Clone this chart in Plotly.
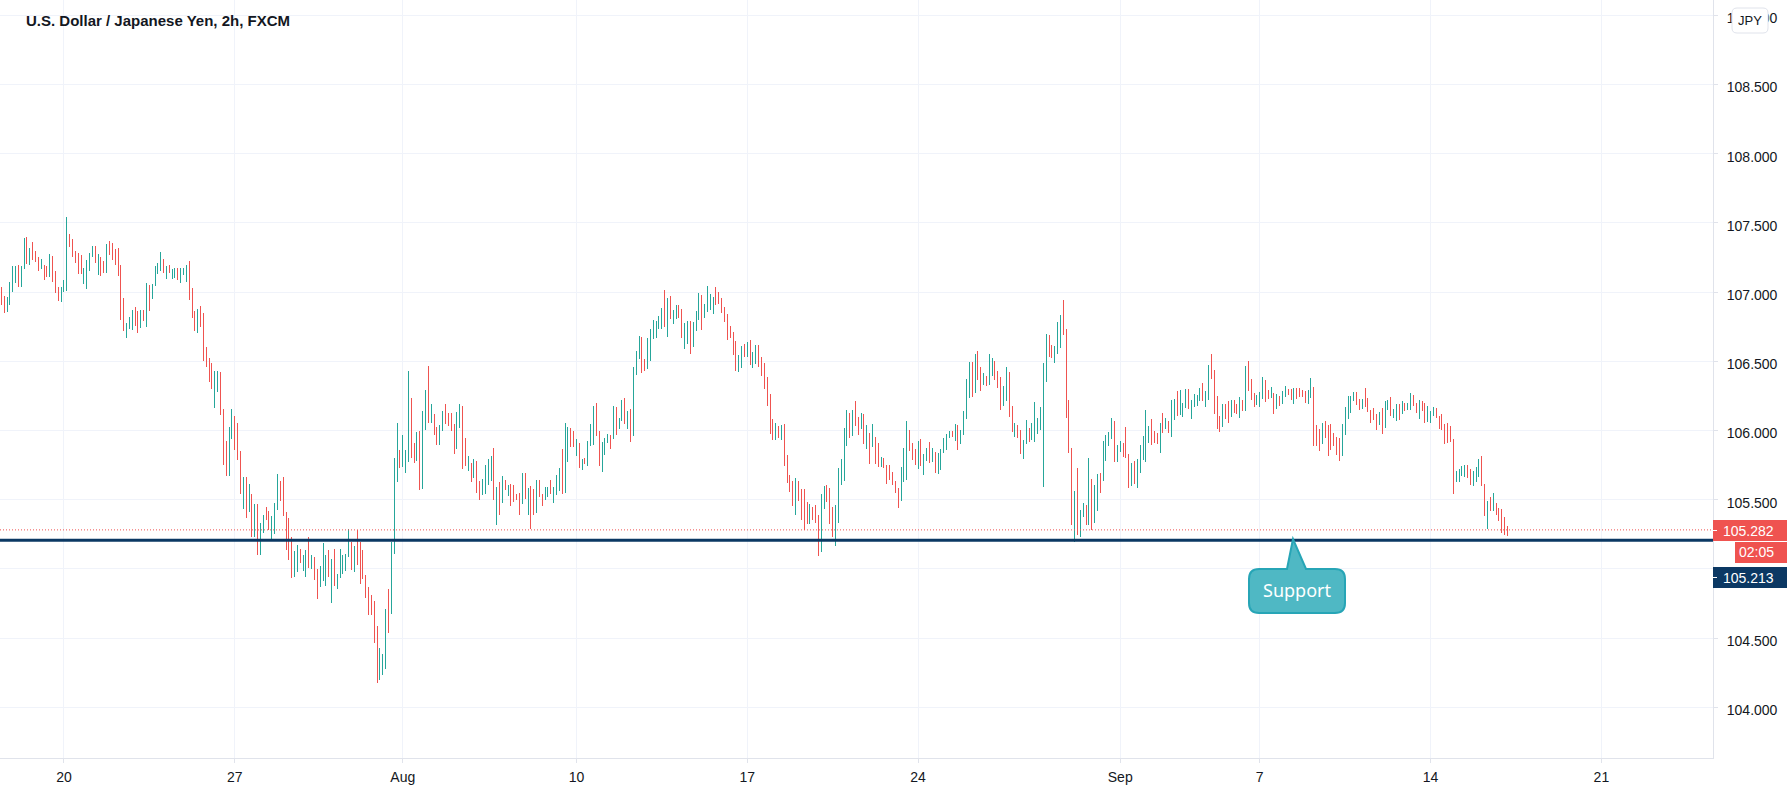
import plotly.graph_objects as go

# Bars, section by section (one row = 10 bars)
highs_jul = [
    107.034,106.973,106.966,107.075,107.190,107.190,107.198,107.190,107.393,107.401,
    107.321,107.364,107.299,107.256,107.241,107.198,107.190,107.277,107.263,107.154,
    107.038,107.038,107.089,107.545,107.422,107.386,107.299,107.285,107.270,107.176,
    107.234,107.285,107.335,107.335,107.277,107.256,107.227,107.350,107.372,107.357,
    107.314,107.321,107.198,106.959,106.778,106.821,106.872,106.893,106.864,106.872,
    106.872,107.067,107.053,107.060,107.190,107.212,107.292,107.241,107.190,107.198,
    107.169,107.176,107.176,107.176,107.176,107.198,107.227,107.031,106.864,106.879,
    106.901,106.850,106.604,106.524,106.488,106.430,106.430,106.423,106.154,105.923,
    106.024,106.154,106.104,106.053,105.850,105.662,105.662,105.611,105.539,105.466,
    105.466,105.329,105.386,105.444,105.415,105.379,105.473,105.684,105.633,105.662,
    105.408,105.365,105.234,105.133,105.176,105.147,105.104,105.140,105.234,105.104,
    105.089,105.002,105.024,105.184,105.104,105.140,105.075,105.147,104.966,105.147,
    105.097,105.111,105.292,105.198,105.162,105.278,
    105.191,105.140,104.959,104.872,104.814,104.770,104.589,104.430,104.386,104.712,104.857,105.198,
]
lows_jul = [
    106.908,106.850,106.857,106.908,107.002,107.067,107.038,107.038,107.169,107.205,
    107.198,107.234,107.219,107.154,107.169,107.089,107.111,107.111,107.075,106.995,
    106.937,106.930,107.002,107.009,107.328,107.256,107.212,107.133,107.133,107.060,
    107.024,107.154,107.256,107.212,107.125,107.118,107.140,107.140,107.270,107.234,
    107.198,107.118,106.799,106.720,106.669,106.734,106.727,106.756,106.705,106.741,
    106.792,106.749,106.864,106.951,107.046,107.133,107.154,107.140,107.096,107.140,
    107.096,107.104,107.089,107.067,107.125,107.075,106.944,106.814,106.720,106.705,
    106.749,106.502,106.459,106.350,106.299,106.162,106.278,106.111,105.749,105.669,
    105.669,105.937,105.857,105.785,105.539,105.430,105.365,105.408,105.234,105.234,
    105.104,105.104,105.256,105.350,105.278,105.205,105.249,105.423,105.488,105.379,
    105.140,105.068,104.937,104.945,104.981,105.046,104.988,104.945,105.010,105.002,
    104.923,104.785,104.872,104.916,104.879,104.945,104.756,104.879,104.858,104.937,
    104.966,104.988,105.089,104.995,104.981,105.031,
    104.894,104.930,104.792,104.669,104.669,104.466,104.176,104.198,104.234,104.278,104.539,104.676,
]
dirs_jul = (
    "RRGGGGRGGR" "GRRRGRRGRR" "RGGGRRRRRG" "GGGRGRRGRR" "RRRRGGGRRG" "RGRGGGGRGR" "GGRGGGRRRG"
    "RRRRRGGRRR" "GGRRRGRGRG" "RGGRRGGGRR" "RRRGGRGGRG" "RRGGGRGRGG" "GGGRGR" "RRRRRRRGGGRG"
)

highs_aug1 = [
    105.800,106.053,105.858,105.966,105.858,106.430,106.234,105.908,105.988,105.995,
    106.140,106.292,106.466,106.191,106.118,106.024,106.039,106.140,106.191,106.126,
    106.126,106.046,106.133,106.191,106.176,105.944,105.814,105.763,105.792,105.778,
    105.633,105.647,105.749,105.792,105.814,105.872,105.589,105.626,105.669,105.640,
    105.604,105.611,105.604,105.539,105.546,105.691,105.691,105.582,105.597,105.575,
    105.640,105.640,105.539,105.589,105.589,105.640,105.589,105.676,105.727,105.865,
    106.053,106.024,106.017,105.995,105.937,105.908,105.792,105.800,105.923,106.046,
    106.176,106.198,105.995,105.916,105.944,105.973,105.966,106.176,106.169,106.089,
    106.220,106.234,106.140,106.155,106.459,106.575,106.683,106.676,106.517,106.669,
    106.734,106.799,106.792,106.828,106.886,107.017,106.959,106.973,106.872,106.908,
    106.908,106.879,106.778,106.792,106.792,106.785,106.865,106.995,
]
lows_aug1 = [
    105.111,105.626,105.727,105.734,105.691,105.771,105.800,105.763,105.778,105.568,
    105.575,106.002,106.053,106.053,105.966,105.894,105.894,105.995,106.046,106.031,
    105.995,105.829,105.865,106.017,105.720,105.742,105.705,105.626,105.655,105.546,
    105.500,105.532,105.539,105.604,105.633,105.495,105.314,105.393,105.473,105.567,
    105.524,105.451,105.480,105.495,105.386,105.466,105.502,105.386,105.292,105.386,
    105.401,105.517,105.451,105.495,105.517,105.538,105.473,105.531,105.561,105.539,
    105.546,105.771,105.879,105.879,105.814,105.727,105.713,105.756,105.742,105.887,
    105.894,105.959,105.742,105.698,105.821,105.908,105.865,105.937,105.966,106.010,
    106.068,106.046,106.010,105.916,105.959,106.401,106.517,106.415,106.430,106.444,
    106.502,106.662,106.669,106.734,106.734,106.749,106.676,106.807,106.770,106.807,
    106.814,106.669,106.589,106.626,106.553,106.604,106.720,106.799,
]
dirs_aug1 = (
    "GGRGGGRRGR" "GGRGRRGGRR" "RRGGRRGRGR" "RGGGGRGRGR" "GRRRRGRGRR" "GRRGGRGGGR"
    "GGRRGRGRGG" "GRRGGGRGRG" "GRGRGGGRRG" "GGGGGRGRGG" "RRGGRGGG"
)

highs_aug2 = [
    106.981,106.916,107.046,106.988,106.966,107.039,107.003,106.959,106.894,106.843,
    106.756,106.713,106.648,106.546,106.611,106.626,106.640,106.655,106.568,106.619,
    106.619,106.532,106.488,106.387,106.264,106.083,106.054,106.032,106.039,106.046,
    105.822,105.677,105.633,105.655,105.633,105.575,105.575,105.480,105.466,105.444,
    105.459,105.393,105.538,105.596,105.604,105.582,105.444,105.459,105.728,105.793,
    106.017,106.148,106.126,106.148,106.213,106.097,106.126,106.119,106.039,105.981,
    106.046,105.952,105.909,105.807,105.800,105.749,105.749,105.699,105.633,105.583,
    105.735,105.872,106.068,106.003,105.909,105.865,105.923,105.938,105.829,105.872,
    105.916,105.872,105.844,105.836,105.865,105.945,105.974,105.996,105.996,106.046,
    106.039,106.003,106.141,106.372,106.496,106.496,106.554,106.575,106.459,106.416,
    106.394,106.554,106.525,106.503,106.430,106.387,106.322,106.459,106.423,106.177,
    106.054,106.039,
]
lows_aug2 = [
    106.727,106.814,106.858,106.872,106.843,106.909,106.916,106.851,106.785,106.655,
    106.669,106.546,106.430,106.423,106.452,106.532,106.532,106.474,106.452,106.481,
    106.459,106.394,106.300,106.177,105.974,105.930,105.930,105.945,105.930,105.742,
    105.619,105.554,105.451,105.393,105.488,105.357,105.278,105.321,105.328,105.357,
    105.335,105.096,105.125,105.430,105.480,105.328,105.227,105.162,105.335,105.604,
    105.633,105.887,105.945,105.959,106.032,105.967,106.010,105.901,105.865,105.757,
    105.880,105.757,105.735,105.735,105.728,105.612,105.641,105.604,105.546,105.437,
    105.488,105.626,105.641,105.851,105.786,105.749,105.720,105.742,105.677,105.778,
    105.764,105.771,105.691,105.684,105.713,105.836,105.858,105.945,105.952,105.923,
    105.858,105.901,105.967,106.083,106.235,106.242,106.271,106.365,106.285,106.329,
    106.322,106.329,106.394,106.365,106.307,106.148,106.177,106.213,106.097,105.988,
    105.952,105.945,
]
dirs_aug2 = (
    "RGGGGRRRRR" "RRRGGRGRGG" "RRRRRRGRGR" "RRRGRRRRGR" "RRGGRRRGGG" "GGRGRRGRGR"
    "GRRGRRRRRR" "GGGRRRGRGG" "RGRGGGGGRG" "RGGGGRGRRG" "RGGRRRGGRR" "GR"
)

highs_sep1 = [
    106.003,105.930,106.075,106.017,106.053,106.206,106.090,106.169,106.488,106.698,
    106.691,106.619,106.611,106.785,106.836,106.945,106.734,106.220,105.872,105.561,
    105.727,105.423,105.474,105.459,105.800,105.648,105.604,105.684,105.691,105.923,
    105.966,105.988,106.090,106.068,105.894,105.923,105.909,106.024,105.829,105.764,
    105.778,105.793,105.894,105.959,106.148,106.032,106.082,105.995,105.981,106.053,
    106.126,106.090,106.068,106.220,106.227,106.285,106.292,106.198,106.300,106.300,
    106.220,106.264,106.256,106.307,106.343,106.285,106.474,106.553,106.437,106.249,
    106.104,106.191,106.191,106.213,106.220,106.220,106.191,106.242,106.220,106.466,
    106.503,106.372,106.271,106.256,106.278,106.387,106.365,106.292,106.314,106.271,
    106.264,106.249,106.285,106.321,106.300,106.300,106.307,106.307,106.307,106.292,
    106.285,106.292,106.379,106.314,106.039,106.010,106.053,106.068,106.039,106.046,
    105.981,105.952,105.945,
]
lows_sep1 = [
    105.829,105.793,105.901,105.916,105.930,105.916,105.974,106.003,105.590,106.350,
    106.532,106.524,106.488,106.553,106.597,106.691,106.090,105.836,105.314,105.198,
    105.242,105.227,105.372,105.314,105.314,105.278,105.329,105.416,105.546,105.633,
    105.778,105.887,105.937,105.771,105.771,105.843,105.807,105.800,105.582,105.597,
    105.611,105.582,105.691,105.785,105.771,105.909,105.894,105.909,105.901,105.836,
    105.981,106.010,105.981,105.952,106.075,106.104,106.111,106.097,106.162,106.155,
    106.082,106.169,106.177,106.213,106.213,106.169,106.220,106.372,106.119,106.010,
    105.988,106.024,106.082,106.053,106.097,106.126,106.119,106.090,106.140,106.140,
    106.285,106.220,106.169,106.184,106.169,106.227,106.206,106.227,106.235,106.119,
    106.155,106.177,106.191,106.242,106.256,106.220,106.191,106.227,106.242,106.242,
    106.198,106.191,106.235,105.887,105.887,105.851,105.901,105.945,105.814,105.858,
    105.887,105.821,105.778,
]
dirs_sep1 = (
    "RGGRGGGGGG" "RRGGGRRRRG" "RGGRGRGGRG" "GGGRGGRRRG" "RGGGGGRRRG" "RGRGGRGGGR"
    "GGGGRGGRRR" "RGRRGRRGRG" "RRRGGGRRGR" "GRGGRRGRRR" "RGGRRRGRRR" "RRR"
)

highs_sep2 = [
    106.046,106.169,106.248,106.248,106.277,106.277,106.227,106.227,106.306,106.234,
    106.147,106.161,106.118,106.132,106.161,106.212,106.219,106.241,106.154,106.190,
    106.190,106.212,106.198,106.198,106.270,106.256,106.198,106.219,106.212,106.198,
    106.176,106.140,106.169,106.161,106.103,106.118,106.046,106.053,106.031,105.937,
    105.705,105.719,105.741,105.748,105.748,105.719,105.705,105.734,105.792,105.814,
    105.611,105.488,105.517,105.546,105.473,105.437,105.430,105.372,105.307,
]
lows_sep2 = [
    105.814,105.966,106.082,106.125,106.212,106.183,106.147,106.154,106.169,106.132,
    106.053,106.075,106.002,106.038,105.973,106.017,106.147,106.103,106.089,106.067,
    106.075,106.118,106.140,106.147,106.147,106.176,106.125,106.082,106.140,106.053,
    106.060,106.053,106.103,106.089,106.009,106.002,105.901,105.908,105.915,105.538,
    105.625,105.625,105.669,105.662,105.654,105.604,105.596,105.625,105.662,105.596,
    105.379,105.292,105.422,105.415,105.386,105.343,105.256,105.248,105.241,
]
dirs_sep2 = "GGGGGRRGRR" "RRRGRGGRGG" "RGRGGRRGRR" "GGGRRRRRRR" "GGGGRRGGGR" "RGRGRRRRR"

highs = highs_jul + highs_aug1 + highs_aug2 + highs_sep1 + highs_sep2
lows = lows_jul + lows_aug1 + lows_aug2 + lows_sep1 + lows_sep2
dirs = dirs_jul + dirs_aug1 + dirs_aug2 + dirs_sep1 + dirs_sep2

tick_bars = [22, 82, 141, 202, 262, 322, 393, 442, 502, 562]
tick_labels = ["20", "27", "Aug", "10", "17", "24", "Sep", "7", "14", "21"]
price_ticks = [104, 104.5, 105, 105.5, 106, 106.5, 107, 107.5, 108, 108.5, 109]

last_price = 105.282
support_price = 105.207

UP = "#26a69a"
DOWN = "#ef5350"
NAVY = "#0b3863"
GRID = "#f0f3fa"
AXIS = "#e0e3eb"
TEXT = "#131722"

# plot area in page pixels
PW, PH = 1713, 758


def px(x):
    return x / PW


def py(y):
    return (PH - y) / PH


def box(x0, y0, x1, y1, color):
    return dict(type="rect", xref="paper", yref="paper", x0=px(x0), x1=px(x1), y0=py(y0), y1=py(y1),
                fillcolor=color, line_width=0, layer="above")


def label(text, x, y, color, size=14, font="Liberation Sans", anchor="right"):
    return dict(text=text, xref="paper", yref="paper", x=px(x), y=py(y), xanchor=anchor, yanchor="middle",
                showarrow=False, font=dict(color=color, size=size, family=font))


def rounded(x0, y0, x1, y1, r):
    return (f"M{px(x0 + r)},{py(y0)} L{px(x1 - r)},{py(y0)} Q{px(x1)},{py(y0)} {px(x1)},{py(y0 + r)} "
            f"L{px(x1)},{py(y1 - r)} Q{px(x1)},{py(y1)} {px(x1 - r)},{py(y1)} "
            f"L{px(x0 + r)},{py(y1)} Q{px(x0)},{py(y1)} {px(x0)},{py(y1 - r)} "
            f"L{px(x0)},{py(y0 + r)} Q{px(x0)},{py(y0)} {px(x0 + r)},{py(y0)} Z")


# open/close are not separable at this width, each bar spans its whole range
opens = [lo if d == "G" else hi for hi, lo, d in zip(highs, lows, dirs)]
closes = [hi if d == "G" else lo for hi, lo, d in zip(highs, lows, dirs)]

fig = go.Figure(go.Ohlc(
    x=list(range(len(highs))),
    open=opens, high=highs, low=lows, close=closes,
    tickwidth=0,
    increasing=dict(line=dict(color=UP, width=1)),
    decreasing=dict(line=dict(color=DOWN, width=1)),
    showlegend=False,
))

# callout with the pointer up to the support line
bubble = (
    f"M{px(1259)},{py(569)} L{px(1287)},{py(569)} L{px(1293)},{py(539)} L{px(1306)},{py(569)} "
    f"L{px(1335)},{py(569)} Q{px(1345)},{py(569)} {px(1345)},{py(579)} L{px(1345)},{py(603)} "
    f"Q{px(1345)},{py(613)} {px(1335)},{py(613)} L{px(1259)},{py(613)} Q{px(1249)},{py(613)} {px(1249)},{py(603)} "
    f"L{px(1249)},{py(579)} Q{px(1249)},{py(569)} {px(1259)},{py(569)} Z"
)

shapes = [
    dict(type="line", xref="paper", yref="y", x0=0, x1=1, y0=last_price, y1=last_price,
         line=dict(color=DOWN, width=1, dash="1px,2px"), layer="above"),
    dict(type="line", xref="paper", yref="y", x0=0, x1=1, y0=support_price, y1=support_price,
         line=dict(color=NAVY, width=3), layer="above"),
    dict(type="path", xref="paper", yref="paper", path=bubble, fillcolor="#4fb8c4",
         line=dict(color="#27a5b6", width=2), layer="above"),
    box(1713, 520, 1787, 541, DOWN),
    box(1735, 542, 1787, 563, DOWN),
    box(1713, 567, 1787, 588, NAVY),
    box(1713, 530, 1717, 531, "#ffffff"),
    box(1713, 577, 1717, 578, "#ffffff"),
    dict(type="path", xref="paper", yref="paper", path=rounded(1732, 8, 1768, 33, 5), fillcolor="#ffffff",
         line=dict(color=AXIS, width=1), layer="above"),
]

annotations = [
    label("<b>U.S. Dollar / Japanese Yen, 2h, FXCM</b>", 24, 20, TEXT, size=15, anchor="left"),
    label("105.282", 1776, 530.5, "#ffffff"),
    label("02:05", 1776, 552.5, "#ffffff"),
    label("105.213", 1776, 577.5, "#ffffff"),
    label("JPY", 1750, 20.5, TEXT, size=13, anchor="center"),
    label("Support", 1297, 590, "#ffffff", size=18, font="Noto Sans", anchor="center"),
]

fig.update_layout(
    width=1787,
    height=793,
    margin=dict(l=0, r=74, t=0, b=35),
    paper_bgcolor="#ffffff",
    plot_bgcolor="#ffffff",
    font=dict(family="Liberation Sans", size=14, color=TEXT),
    shapes=shapes,
    annotations=annotations,
    hovermode=False,
    xaxis=dict(
        range=[-0.457, 601.2],
        rangeslider=dict(visible=False),
        tickvals=tick_bars,
        ticktext=tick_labels,
        ticks="outside",
        ticklen=4,
        tickcolor=AXIS,
        ticklabelstandoff=2,
        showgrid=True,
        gridcolor=GRID,
        gridwidth=1,
        zeroline=False,
        showline=True,
        linecolor=AXIS,
        tickfont=dict(size=14, color=TEXT),
    ),
    yaxis=dict(
        side="right",
        range=[103.634, 109.11],
        tickvals=price_ticks,
        tickformat=".3f",
        ticks="outside",
        ticklen=4,
        tickcolor=AXIS,
        ticklabelstandoff=6,
        ticklabelshift=3,
        showgrid=True,
        gridcolor=GRID,
        gridwidth=1,
        zeroline=False,
        showline=True,
        linecolor=AXIS,
        tickfont=dict(size=14, color=TEXT),
    ),
)

# page without body margin, bars snapped to whole pixels
post = (
    "document.body.style.margin='0';"
    "document.querySelectorAll('.ohlc path').forEach(function(p){p.style.shapeRendering='crispEdges';});"
)
fig.write_html("out.html", config={"displayModeBar": False}, post_script=post)
